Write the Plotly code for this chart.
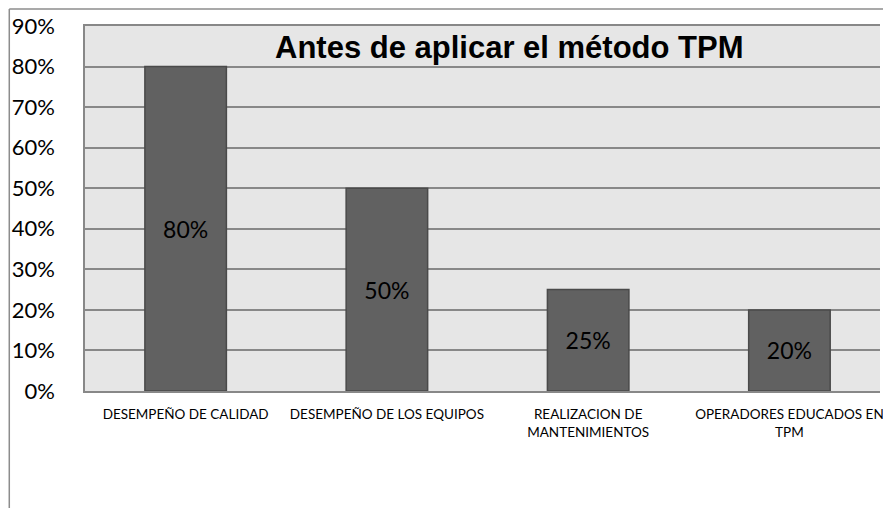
import plotly.graph_objects as go

categories = ["DESEMPEÑO DE CALIDAD", "DESEMPEÑO DE LOS EQUIPOS",
              "REALIZACION DE<br>MANTENIMIENTOS", "OPERADORES EDUCADOS EN<br>TPM"]
values = [0.80, 0.50, 0.25, 0.20]
labels = ["80%", "50%", "25%", "20%"]
title = "Antes de aplicar el método TPM"

W, H = 883, 508
L, T, B = 85, 26, 117
pw = W - L
ph = H - T - B

fig = go.Figure(go.Bar(
    x=list(range(len(categories))), y=values, text=labels,
    textposition="inside", insidetextanchor="middle",
    textfont=dict(family="Lato", size=23, color="#000000"),
    marker=dict(color="#616161", line=dict(color="#4a4a4a", width=1.5)),
    width=0.405, cliponaxis=False,
))

fig.update_layout(
    width=W, height=H,
    margin=dict(l=L, r=0, t=T, b=B),
    paper_bgcolor="white", plot_bgcolor="#e6e6e6",
    showlegend=False,
    font=dict(family="Lato", color="#000000"),
    xaxis=dict(
        range=[-0.5, 3.45], tickmode="array",
        tickvals=list(range(len(categories))), ticktext=categories,
        tickfont=dict(family="Lato", size=13.5), showgrid=False,
        showline=True, linecolor="#888888", linewidth=1.5, mirror=True,
        ticks="", ticklabelstandoff=10, ticklabeloverflow="allow",
        fixedrange=True,
    ),
    yaxis=dict(
        range=[0, 0.9], dtick=0.1, tickformat=".0%",
        tickfont=dict(family="Lato", size=22),
        showgrid=True, gridcolor="#888888", gridwidth=1.5,
        showline=True, linecolor="#888888", linewidth=1.5,
        zeroline=False, ticks="", ticklabelstandoff=24, fixedrange=True,
    ),
    annotations=[dict(
        text=f"<b>{title}</b>", xref="paper", yref="paper",
        x=(511 - L) / pw, y=1 - (47 - T) / ph, xanchor="center", yanchor="middle",
        showarrow=False, font=dict(family="Liberation Sans", size=31, color="#000000"),
    )],
    shapes=[
        dict(type="line", xref="paper", yref="paper",
             x0=(9 - L) / pw, x1=(9 - L) / pw, y0=1 + (T - 9) / ph, y1=1 - (H + 5 - T) / ph,
             line=dict(color="#8c8c8c", width=1.5)),
        dict(type="line", xref="paper", yref="paper",
             x0=(9 - L) / pw, x1=1.05, y0=1 + (T - 9) / ph, y1=1 + (T - 9) / ph,
             line=dict(color="#8c8c8c", width=1.5)),
    ],
)

fig.write_html("out.html", config={"displayModeBar": False},
               post_script="document.body.style.margin='0';document.body.style.overflow='hidden';")
